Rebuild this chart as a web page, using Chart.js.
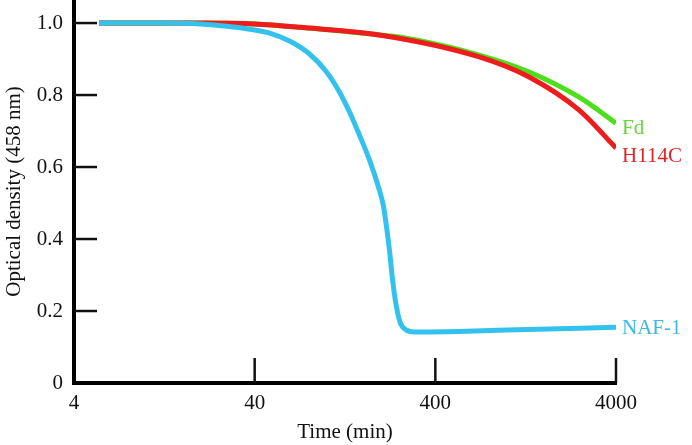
<!DOCTYPE html>
<html>
<head>
<meta charset="utf-8">
<script src="https://cdn.jsdelivr.net/npm/chart.js@4.4.1/dist/chart.umd.min.js"></script>
<style>
html,body{margin:0;padding:0;background:#fff;}
#wrap{width:692px;height:445px;position:relative;}
</style>
</head>
<body>
<div id="wrap"><canvas id="c" width="692" height="445"></canvas></div>
<script>
// ---- data ----
const xTicks = [4, 40, 400, 4000];
const yTicks = [0, 0.2, 0.4, 0.6, 0.8, 1.0];

const nafTime  = [5.5, 12, 20, 37.5, 48.4, 62.4, 80.5, 100, 118, 134, 152, 173, 196, 206, 214, 223, 232, 243, 256, 277, 306, 371, 1000, 4000];
const nafValue = [1.0, 1.0, 0.997, 0.983, 0.972, 0.950, 0.914, 0.864, 0.808, 0.753, 0.689, 0.619, 0.536, 0.494, 0.439, 0.369, 0.286, 0.215, 0.167, 0.147, 0.142, 0.142, 0.147, 0.155];

const h114cTime  = [5.5, 20, 40, 71, 196, 700, 1322, 2500, 4000];
const h114cValue = [1.0, 1.0, 0.997, 0.988, 0.967, 0.906, 0.85, 0.758, 0.653];

const fdTime  = [5.5, 20, 40, 71, 196, 253, 700, 1322, 2500, 4000];
const fdValue = [1.0, 1.0, 0.997, 0.988, 0.967, 0.961, 0.911, 0.864, 0.794, 0.722];

function pts(t, v) { return t.map((x, i) => ({x: x, y: v[i]})); }

const FONT = "'Liberation Serif', 'Times New Roman', serif";

const lineColors = {'NAF-1': '#33c2ee', 'H114C': '#ee1c1c', 'Fd': '#4ddf1a'};
const textColors = {'NAF-1': '#3ab8ea', 'H114C': '#e02424', 'Fd': '#62d83a'};

const innerTicks = {
  id: 'innerTicks',
  beforeDatasetsDraw(chart) {
    const ctx = chart.ctx;
    const xs = chart.scales.x, ys = chart.scales.y;
    ctx.save();
    ctx.strokeStyle = '#111';
    ctx.lineWidth = 2.5;
    const x0 = xs.getPixelForValue(4);
    const y0 = ys.getPixelForValue(0);
    yTicks.forEach(v => {
      if (v === 0) return;
      const y = ys.getPixelForValue(v);
      ctx.beginPath(); ctx.moveTo(x0, y); ctx.lineTo(x0 + 23, y); ctx.stroke();
    });
    xTicks.forEach(v => {
      if (v === 4) return;
      const x = xs.getPixelForValue(v);
      ctx.beginPath(); ctx.moveTo(x, y0); ctx.lineTo(x, y0 - 25); ctx.stroke();
    });
    ctx.restore();
  }
};

const endLabels = {
  id: 'endLabels',
  afterDraw(chart) {
    const ctx = chart.ctx;
    ctx.save();
    ctx.font = '21px ' + FONT;
    ctx.textBaseline = 'middle';
    ctx.textAlign = 'left';
    const off = {'Fd': 5, 'H114C': 9, 'NAF-1': 1};
    chart.data.datasets.forEach((ds, i) => {
      const meta = chart.getDatasetMeta(i);
      const last = meta.data[meta.data.length - 1];
      ctx.fillStyle = textColors[ds.label];
      ctx.fillText(ds.label, last.x + 6, last.y + off[ds.label]);
    });
    ctx.restore();
  }
};

new Chart(document.getElementById('c'), {
  type: 'line',
  data: {
    datasets: [
      {label: 'NAF-1', data: pts(nafTime, nafValue)},
      {label: 'H114C', data: pts(h114cTime, h114cValue)},
      {label: 'Fd', data: pts(fdTime, fdValue)}
    ].map(d => Object.assign(d, {
      borderColor: lineColors[d.label],
      borderWidth: 5,
      pointRadius: 0,
      fill: false,
      cubicInterpolationMode: 'monotone',
      borderCapStyle: 'butt'
    }))
  },
  options: {
    responsive: false,
    animation: false,
    devicePixelRatio: 1,
    layout: {padding: {left: 0, right: 76, top: 0, bottom: 0}},
    plugins: {legend: {display: false}, tooltip: {enabled: false}},
    scales: {
      x: {
        type: 'logarithmic',
        min: 4, max: 4000,
        afterBuildTicks: s => { s.ticks = xTicks.map(v => ({value: v})); },
        afterFit: s => { s.height = 62; s.paddingLeft = 0; s.paddingRight = 0; },
        grid: {display: false, drawTicks: false},
        border: {display: true, color: '#000', width: 4},
        ticks: {
          color: '#111', padding: 8,
          font: {family: FONT, size: 21},
          callback: v => String(v), autoSkip: false, maxRotation: 0
        },
        title: {display: true, text: 'Time (min)', color: '#111', font: {family: FONT, size: 21}, padding: {top: 0, bottom: 0}}
      },
      y: {
        min: 0, max: 1.064,
        afterBuildTicks: s => { s.ticks = yTicks.map(v => ({value: v})); },
        afterFit: s => { s.width = 74; s.paddingTop = 0; s.paddingBottom = 0; },
        grid: {display: false, drawTicks: false},
        border: {display: true, color: '#000', width: 4},
        ticks: {
          color: '#111', padding: 11,
          font: {family: FONT, size: 21},
          callback: v => v === 0 ? '0' : Number(v).toFixed(1)
        },
        title: {display: true, text: 'Optical density (458 nm)', color: '#111', font: {family: FONT, size: 21}, padding: {top: 2, bottom: 0}}
      }
    }
  },
  plugins: [innerTicks, endLabels]
});
</script>
</body>
</html>
